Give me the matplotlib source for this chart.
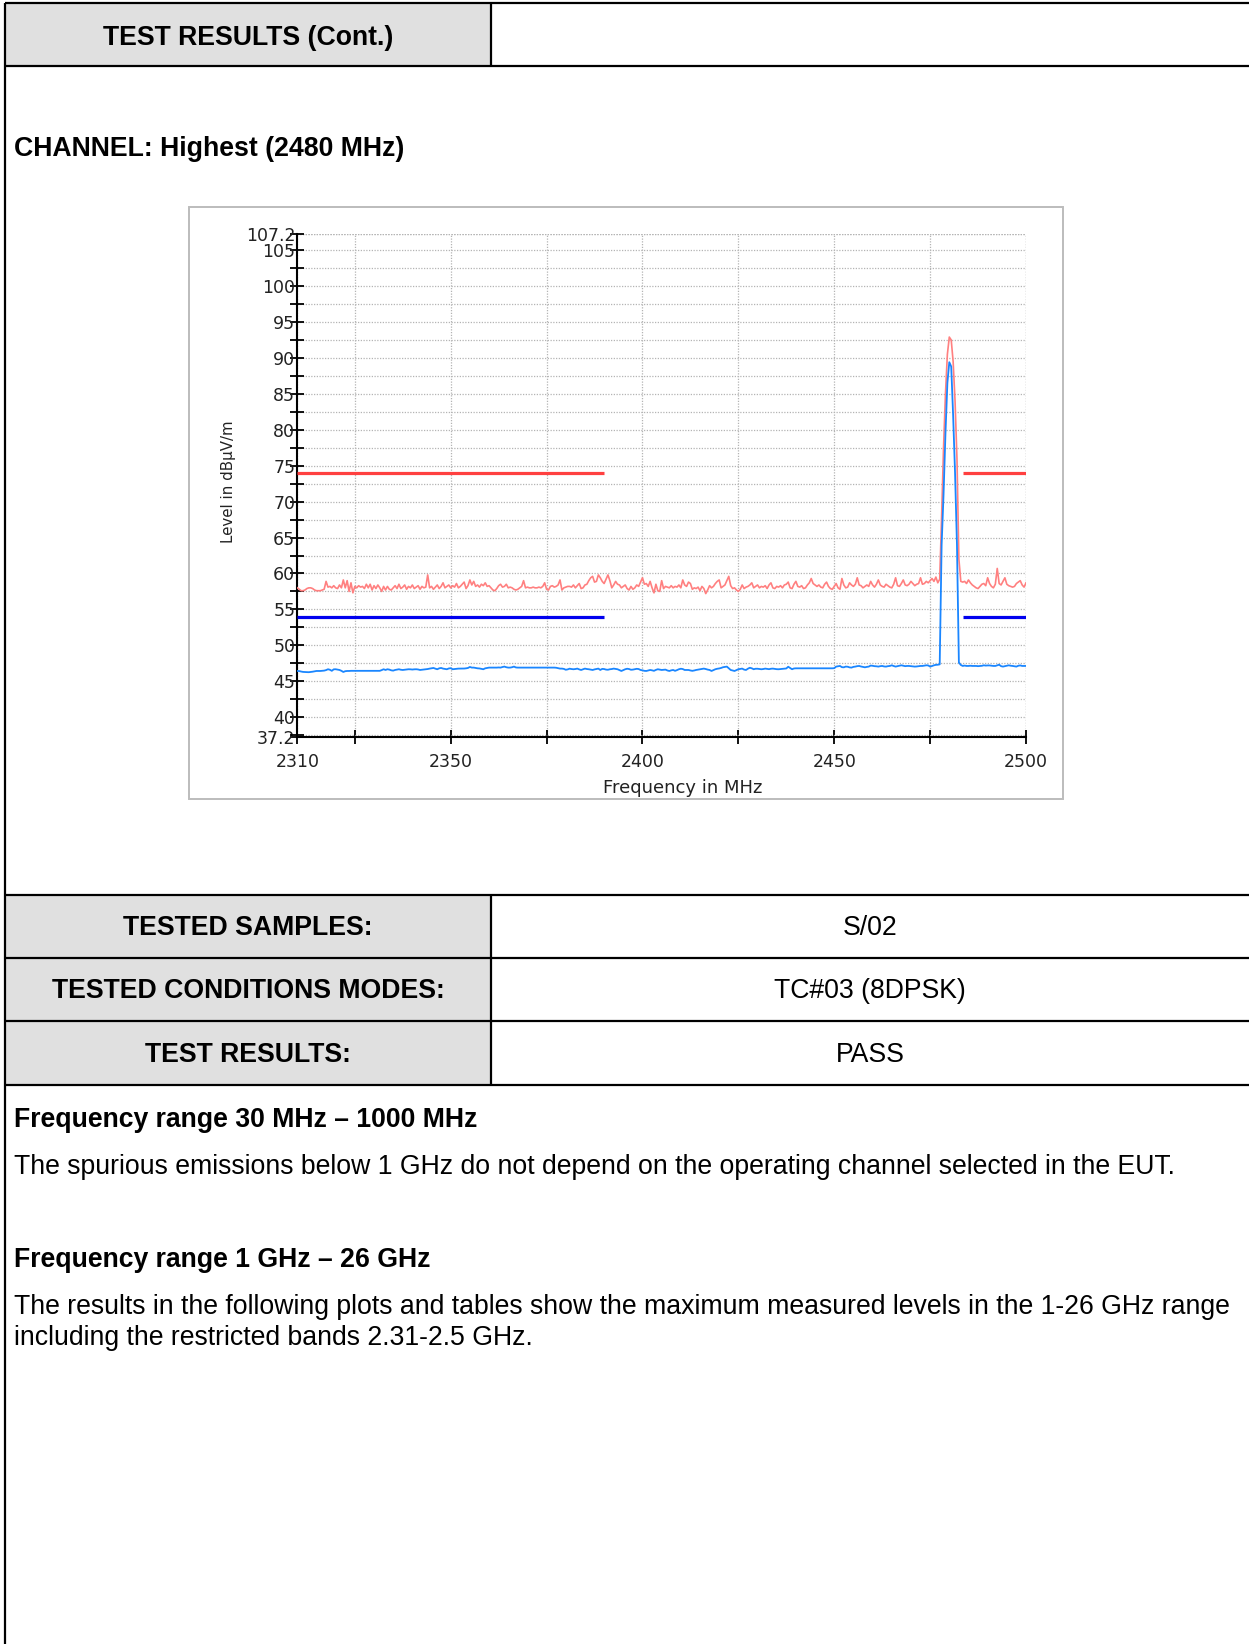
import numpy as np
import matplotlib
matplotlib.use("Agg")
import matplotlib.pyplot as plt
from matplotlib.patches import Rectangle
from matplotlib.transforms import ScaledTranslation

# ---------------------------------------------------------------- page size
W, H = 1249, 1644

# ---------------------------------------------------------------- sweep data
freq_start = 2310.0   # MHz
freq_step = 0.5       # MHz

# Max-peak detector trace, dBuV/m (one row per 10 MHz)
peak_trace = [
    58.0, 57.8, 57.6, 57.6, 57.7, 57.9, 58.0, 58.0, 57.9, 57.7, 57.6, 57.6, 57.6, 57.7, 57.8, 58.9, 58.1, 58.2, 58.0, 58.3,
    58.0, 57.9, 58.4, 58.0, 59.1, 58.0, 59.0, 57.5, 58.7, 57.3, 58.2, 58.0, 58.3, 58.1, 58.2, 57.9, 58.5, 58.0, 58.5, 57.7,
    58.3, 57.9, 58.4, 58.0, 57.5, 58.2, 57.7, 58.2, 57.8, 57.7, 58.0, 58.3, 57.9, 58.5, 57.9, 58.1, 58.4, 57.8, 58.2, 58.0,
    58.4, 57.9, 58.1, 58.3, 57.8, 58.2, 58.0, 58.1, 59.8, 58.0, 58.2, 57.8, 58.1, 58.4, 57.9, 58.2, 58.7, 58.0, 58.2, 58.4,
    58.0, 58.3, 58.1, 58.6, 58.0, 58.2, 58.5, 58.8, 57.9, 58.3, 59.1, 58.4, 58.9, 58.2, 58.4, 58.1, 58.5, 58.3, 58.7, 58.2,
    58.3, 58.0, 57.7, 57.6, 57.9, 58.3, 58.5, 58.1, 58.2, 58.5, 58.0, 58.1, 58.0, 57.8, 57.7, 57.8, 58.0, 58.2, 59.0, 58.0,
    58.1, 58.0, 58.0, 58.1, 58.0, 58.0, 58.1, 58.0, 58.2, 58.7, 57.8, 57.7, 58.2, 58.3, 58.1, 58.2, 58.4, 59.1, 57.7, 58.0,
    58.1, 58.2, 58.2, 58.1, 58.4, 58.0, 58.3, 58.6, 57.9, 58.0, 58.4, 58.5, 59.0, 59.4, 59.6, 58.8, 58.9, 59.8, 59.4, 58.9,
    58.6, 59.2, 59.8, 59.0, 58.0, 58.4, 58.9, 58.5, 58.4, 58.0, 58.2, 58.4, 57.9, 57.7, 58.2, 57.8, 58.0, 58.4, 58.2, 58.8,
    59.4, 58.5, 58.6, 58.2, 58.9, 58.0, 57.3, 58.5, 57.6, 57.5, 59.0, 57.9, 58.2, 58.1, 58.0, 58.3, 58.0, 58.2, 58.1, 58.4,
    58.0, 59.1, 58.4, 58.2, 58.8, 58.6, 57.8, 58.0, 57.9, 58.1, 57.6, 58.2, 57.9, 57.2, 57.7, 58.3, 58.0, 58.2, 58.6, 58.9,
    59.1, 58.0, 58.2, 58.4, 59.0, 59.6, 58.3, 57.9, 58.0, 57.7, 57.5, 57.8, 58.4, 57.9, 58.1, 58.2, 58.4, 58.7, 58.0, 58.2,
    58.4, 58.0, 58.2, 58.1, 58.3, 57.9, 58.4, 58.7, 58.0, 57.9, 58.2, 58.1, 58.3, 58.0, 58.4, 58.5, 58.8, 58.0, 57.9, 58.5,
    58.9, 58.2, 58.1, 58.3, 57.9, 58.0, 58.4, 58.7, 59.3, 58.6, 58.4, 58.2, 58.4, 58.1, 58.0, 58.5, 58.8, 58.2, 57.9, 57.8,
    58.2, 58.6, 58.0, 57.8, 59.3, 58.4, 58.0, 58.1, 58.7, 58.4, 58.2, 58.5, 59.4, 58.4, 58.3, 58.0, 58.2, 58.4, 58.2, 58.9,
    58.4, 58.1, 58.5, 59.1, 58.4, 58.2, 58.1, 58.5, 58.3, 58.1, 58.0, 58.5, 59.4, 58.3, 58.2, 58.6, 59.1, 58.4, 58.3, 58.5,
    58.9, 58.6, 58.3, 58.5, 58.6, 59.4, 58.5, 58.6, 58.9, 58.7, 59.0, 59.3, 58.9, 59.5, 58.7, 59.2, 68.0, 77.5, 85.0, 90.5,
    92.9, 92.5, 89.5, 84.0, 76.0, 62.0, 58.9, 58.8, 58.9, 58.6, 59.1, 58.7, 58.4, 58.2, 58.0, 57.9, 58.2, 58.5, 58.6, 58.3,
    59.4, 58.6, 58.2, 58.0, 58.5, 60.7, 58.6, 58.4, 58.9, 59.4, 58.5, 58.3, 58.2, 58.1, 58.2, 58.6, 58.8, 59.0, 58.4, 58.1,
    58.7,
]

# Average detector trace, dBuV/m (one row per 10 MHz)
average_trace = [
    46.43, 46.42, 46.35, 46.30, 46.28, 46.27, 46.26, 46.29, 46.33, 46.38, 46.43, 46.43, 46.43, 46.45, 46.48, 46.55, 46.67, 46.60, 46.45, 46.66,
    46.67, 46.62, 46.57, 46.45, 46.29, 46.40, 46.43, 46.43, 46.45, 46.45, 46.44, 46.46, 46.45, 46.44, 46.45, 46.46, 46.45, 46.44, 46.45, 46.45,
    46.45, 46.45, 46.44, 46.45, 46.55, 46.67, 46.57, 46.67, 46.62, 46.52, 46.48, 46.57, 46.62, 46.67, 46.60, 46.57, 46.60, 46.64, 46.67, 46.66,
    46.63, 46.66, 46.67, 46.64, 46.57, 46.60, 46.64, 46.67, 46.70, 46.76, 46.80, 46.85, 46.75, 46.67, 46.80, 46.85, 46.76, 46.72, 46.67, 46.78,
    46.82, 46.67, 46.70, 46.72, 46.76, 46.76, 46.76, 46.77, 46.80, 46.85, 46.99, 46.90, 46.90, 46.85, 46.80, 46.78, 46.72, 46.67, 46.80, 46.85,
    46.90, 46.90, 46.90, 46.90, 46.90, 46.92, 46.90, 46.98, 47.04, 46.95, 46.90, 46.90, 46.95, 47.04, 46.92, 46.90, 46.90, 46.90, 46.90, 46.90,
    46.90, 46.90, 46.91, 46.90, 46.90, 46.90, 46.91, 46.90, 46.90, 46.90, 46.90, 46.90, 46.91, 46.90, 46.90, 46.88, 46.82, 46.76, 46.76, 46.72,
    46.60, 46.65, 46.75, 46.70, 46.67, 46.70, 46.76, 46.65, 46.57, 46.67, 46.76, 46.70, 46.67, 46.62, 46.57, 46.65, 46.70, 46.76, 46.57, 46.72,
    46.70, 46.62, 46.60, 46.67, 46.70, 46.76, 46.72, 46.67, 46.55, 46.43, 46.55, 46.67, 46.74, 46.70, 46.60, 46.62, 46.67, 46.73, 46.70, 46.57,
    46.52, 46.45, 46.43, 46.50, 46.57, 46.52, 46.45, 46.58, 46.67, 46.62, 46.57, 46.60, 46.62, 46.50, 46.43, 46.52, 46.57, 46.45, 46.55, 46.67,
    46.74, 46.70, 46.57, 46.57, 46.57, 46.50, 46.45, 46.50, 46.57, 46.62, 46.67, 46.72, 46.76, 46.70, 46.62, 46.57, 46.43, 46.55, 46.67, 46.74,
    46.78, 46.85, 46.95, 47.00, 47.04, 46.80, 46.57, 46.50, 46.43, 46.55, 46.67, 46.72, 46.76, 46.62, 46.57, 46.75, 46.88, 46.80, 46.67, 46.74,
    46.74, 46.70, 46.67, 46.70, 46.76, 46.72, 46.68, 46.74, 46.76, 46.72, 46.68, 46.67, 46.70, 46.74, 46.76, 46.78, 47.02, 46.85, 46.67, 46.78,
    46.80, 46.80, 46.80, 46.81, 46.80, 46.80, 46.80, 46.80, 46.80, 46.80, 46.81, 46.80, 46.80, 46.80, 46.80, 46.80, 46.80, 46.81, 46.80, 46.80,
    46.82, 47.04, 47.08, 47.13, 46.96, 46.94, 47.04, 47.02, 46.93, 46.90, 47.00, 47.04, 47.10, 47.13, 47.05, 47.00, 46.94, 47.00, 47.04, 47.18,
    47.15, 47.10, 47.08, 47.04, 47.10, 47.13, 47.06, 47.04, 47.10, 47.13, 47.22, 47.12, 47.04, 47.10, 47.15, 47.22, 47.16, 47.10, 47.13, 47.13,
    47.10, 47.06, 47.04, 47.06, 47.10, 47.13, 47.13, 47.18, 47.22, 47.20, 47.04, 47.12, 47.22, 47.28, 47.30, 47.35, 64.00, 71.00, 79.50, 86.50,
    89.40, 88.80, 82.00, 74.00, 64.00, 47.60, 47.27, 47.13, 47.18, 47.13, 47.13, 47.16, 47.13, 47.13, 47.13, 47.10, 47.13, 47.15, 47.22, 47.18,
    47.20, 47.20, 47.16, 47.13, 47.13, 47.22, 47.30, 47.10, 47.04, 47.10, 47.16, 47.22, 47.16, 47.13, 47.08, 47.04, 47.16, 47.20, 47.13, 47.13,
    47.13,
]

# Restricted bands and their limits
restricted_bands = [(2310.0, 2390.0), (2483.5, 2500.0)]
peak_limit = 74.0
average_limit = 54.0

# Axis ticks
y_major_ticks = [37.2, 40, 45, 50, 55, 60, 65, 70, 75, 80, 85, 90, 95, 100, 105, 107.2]
y_major_labels = ["37.2", "40", "45", "50", "55", "60", "65", "70", "75", "80",
                  "85", "90", "95", "100", "105", "107.2"]
y_minor_ticks = [37.5, 42.5, 47.5, 52.5, 57.5, 62.5, 67.5, 72.5, 77.5, 82.5,
                 87.5, 92.5, 97.5, 102.5]
x_major_ticks = [2310, 2350, 2400, 2450, 2500]
x_major_labels = ["2310", "2350", "2400", "2450", "2500"]
x_minor_ticks = [2325, 2375, 2425, 2475]

# Report table contents
header_title = "TEST RESULTS (Cont.)"
channel_title = "CHANNEL: Highest (2480 MHz)"
table_rows = [("TESTED SAMPLES:", "S/02"),
              ("TESTED CONDITIONS MODES:", "TC#03 (8DPSK)"),
              ("TEST RESULTS:", "PASS")]

freqs = freq_start + freq_step * np.arange(len(peak_trace))

# ---------------------------------------------------------------- figure
plt.rcParams["font.family"] = ["Liberation Sans", "DejaVu Sans"]
fig = plt.figure(figsize=(W / 100, H / 100), dpi=100)
fig.patch.set_facecolor("white")

page = fig.add_axes([0, 0, 1, 1], zorder=0)
page.set_xlim(0, W)
page.set_ylim(H, 0)
page.axis("off")

LINE = dict(color="black", lw=1.6, solid_capstyle="butt")
GRAY = "#e0e0e0"
LEFT, SPLIT = 5, 491
FS = 19.2

# header row
page.add_patch(Rectangle((LEFT, 3), SPLIT - LEFT, 63, facecolor=GRAY, edgecolor="none"))
page.plot([LEFT, W], [3, 3], **LINE)
page.plot([LEFT, W], [66, 66], **LINE)
page.plot([SPLIT, SPLIT], [3, 66], **LINE)
page.plot([LEFT, LEFT], [3, H], **LINE)
page.text((LEFT + SPLIT) / 2, 38, header_title, ha="center", va="center",
          fontsize=FS, fontweight="bold")

page.text(14, 149, channel_title, ha="left", va="center",
          fontsize=FS, fontweight="bold")

# chart frame
page.add_patch(Rectangle((189, 207), 874, 592, facecolor="white",
                         edgecolor="#bcbcbc", lw=1.4))

# results table
row_lines = [894.5, 957.5, 1021.4, 1085.4]
for i, (label, value) in enumerate(table_rows):
    y0, y1 = row_lines[i], row_lines[i + 1]
    page.add_patch(Rectangle((LEFT, y0), SPLIT - LEFT, y1 - y0,
                             facecolor=GRAY, edgecolor="none"))
    yc = (y0 + y1) / 2 + 2
    page.text((LEFT + SPLIT) / 2, yc, label, ha="center", va="center",
              fontsize=FS, fontweight="bold")
    page.text(870, yc, value, ha="center", va="center", fontsize=FS)
for y in row_lines:
    page.plot([LEFT, W], [y, y], **LINE)
page.plot([SPLIT, SPLIT], [row_lines[0], row_lines[-1]], **LINE)

# notes below the table
page.text(14, 1120, "Frequency range 30 MHz \u2013 1000 MHz", ha="left", va="center",
          fontsize=FS, fontweight="bold")
page.text(14, 1167, "The spurious emissions below 1 GHz do not depend on the operating "
          "channel selected in the EUT.", ha="left", va="center", fontsize=FS)
page.text(14, 1260, "Frequency range 1 GHz \u2013 26 GHz", ha="left", va="center",
          fontsize=FS, fontweight="bold")
page.text(14, 1307, "The results in the following plots and tables show the maximum "
          "measured levels in the 1-26 GHz range", ha="left", va="center", fontsize=FS)
page.text(14, 1338, "including the restricted bands 2.31-2.5 GHz.", ha="left",
          va="center", fontsize=FS)

# ---------------------------------------------------------------- spectrum plot
x0_px, x1_px = 297.3, 1026.0
ytop_px, ybot_px = 234.3, 737.3
ax = fig.add_axes([x0_px / W, 1 - ybot_px / H, (x1_px - x0_px) / W,
                   (ybot_px - ytop_px) / H], zorder=2)
ax.set_facecolor("white")
ax.set_xlim(2310, 2500)
ax.set_ylim(37.2, 107.2)

ax.set_xticks(x_major_ticks)
ax.set_xticklabels(x_major_labels)
ax.set_xticks(x_minor_ticks, minor=True)
ax.set_yticks(y_major_ticks)
ax.set_yticklabels(y_major_labels)
ax.set_yticks(y_minor_ticks, minor=True)

shift_right = ScaledTranslation(3 / 100, 0, fig.dpi_scale_trans)
for lab in ax.get_xticklabels() + ax.get_yticklabels():
    lab.set_fontfamily("DejaVu Sans")
    lab.set_fontsize(12.5)
    lab.set_color("#222222")
for lab in ax.get_xticklabels():
    lab.set_transform(lab.get_transform() + shift_right)

ax.tick_params(axis="both", which="both", direction="inout", length=10,
               width=1.3, color="black")
ax.tick_params(axis="x", which="both", pad=6.5)
ax.tick_params(axis="y", which="both", pad=-3.5)

for side in ("top", "right"):
    ax.spines[side].set_visible(False)
for side in ("left", "bottom"):
    ax.spines[side].set_linewidth(1.5)
    ax.spines[side].set_color("black")

grid_style = dict(color="#b4b4b4", lw=0.9, linestyle=(0, (1, 1.2)))
ax.grid(True, which="both", **grid_style)
ax.axhline(107.2, **grid_style, zorder=0.5)
ax.axvline(2500, **grid_style, zorder=0.5)
ax.set_axisbelow(True)

ax.set_xlabel("Frequency in MHz", fontfamily="DejaVu Sans", fontsize=13,
              color="#222222", va="center")
ax.xaxis.set_label_coords((683 - x0_px) / (x1_px - x0_px),
                          (ybot_px - 788) / (ybot_px - ytop_px))
ax.set_ylabel("Level in dB\u00b5V/m", fontfamily="DejaVu Sans", fontsize=10.8,
              color="#222222", va="center")
ax.yaxis.set_label_coords((229 - x0_px) / (x1_px - x0_px),
                          (ybot_px - 482) / (ybot_px - ytop_px))

# measured traces
ax.plot(freqs, peak_trace, color="#ff8080", lw=1.2, zorder=3)
ax.plot(freqs, average_trace, color="#1a86ff", lw=1.3, zorder=4)

# limits inside the restricted bands
for lo, hi in restricted_bands:
    ax.hlines(peak_limit, lo, hi, colors="#ff4040", lw=2.3, zorder=5)
    ax.hlines(average_limit, lo, hi, colors="#0000ee", lw=2.3, zorder=5)

fig.savefig("out.png", dpi=100, facecolor="white")
